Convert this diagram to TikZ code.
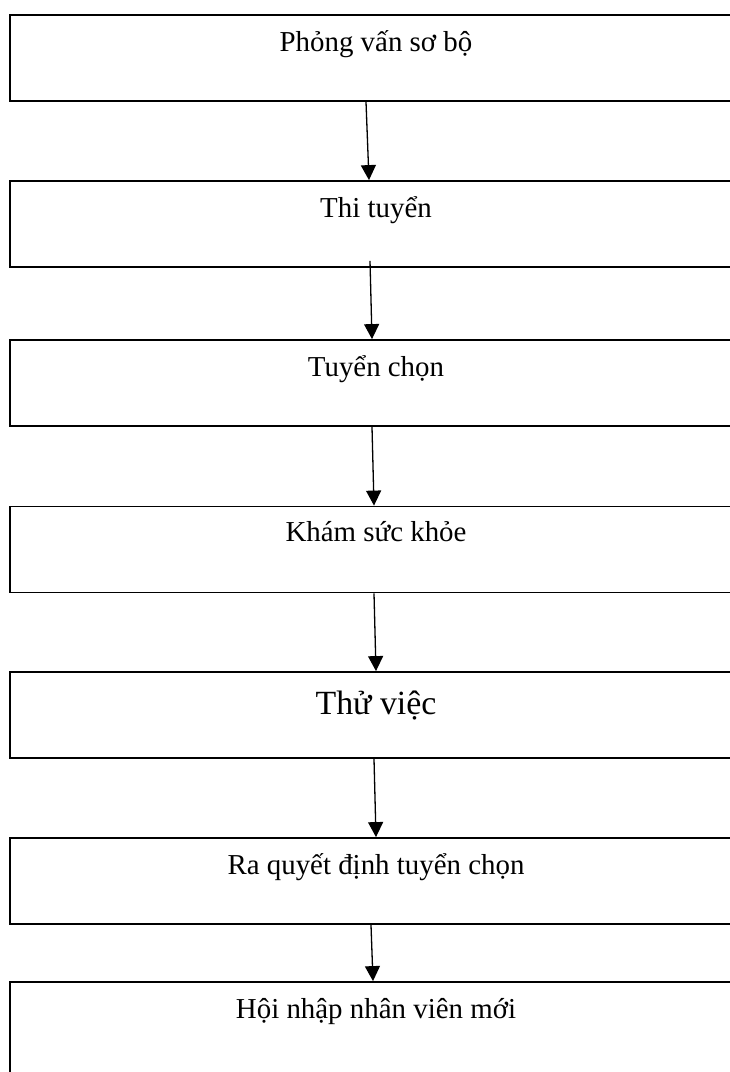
\documentclass[tikz,border=0pt]{standalone}
\usepackage{fontspec}
\setmainfont{Liberation Serif}
\usetikzlibrary{arrows.meta}
\tikzset{
  stagebox/.style={draw=black, line width=1.8bp, rectangle, minimum width=732bp, minimum height=86bp, inner sep=0pt},
  stagetext/.style={anchor=base, inner sep=0pt, font=\fontsize{29}{34}\selectfont},
  bigtext/.style={anchor=base, inner sep=0pt, font=\fontsize{34}{40}\selectfont},
  flow/.style={draw=black, line width=1.3bp, -{Triangle[length=15bp,width=15bp]}}
}
\begin{document}
\begin{tikzpicture}[x=1bp,y=-1bp]
\useasboundingbox (0,0) rectangle (730,1072);
\clip (0,0) rectangle (730,1072);
\node[stagebox] (b1) at (376,58) {};
\node[stagebox] (b2) at (376,224) {};
\node[stagebox] (b3) at (376,383) {};
\node[stagebox] (b4) at (376,549.5) {};
\node[stagebox] (b5) at (376,715) {};
\node[stagebox] (b6) at (376,881) {};
\node[stagebox, minimum height=100bp] (b7) at (376,1032) {};
\node[stagetext] (t1) at ([yshift=-37bp]b1.north) {Phỏng vấn sơ bộ};
\node[stagetext] (t2) at ([yshift=-37bp]b2.north) {Thi tuyển};
\node[stagetext] (t3) at ([yshift=-37bp]b3.north) {Tuyển chọn};
\node[stagetext] (t4) at ([yshift=-36bp]b4.north) {Khám sức khỏe};
\node[bigtext] (t5) at ([yshift=-43bp]b5.north) {Thử việc};
\node[stagetext] (t6) at ([yshift=-37bp]b6.north) {Ra quyết định tuyển chọn};
\node[stagetext] (t7) at ([yshift=-37bp]b7.north) {Hội nhập nhân viên mới};
\draw[flow] ([xshift=-10bp]b1.south) -- ([xshift=-7bp]b2.north);
\draw[flow] ([xshift=-6bp,yshift=7bp]b2.south) -- ([xshift=-4bp]b3.north);
\draw[flow] ([xshift=-4bp]b3.south) -- ([xshift=-2bp]b4.north);
\draw[flow] ([xshift=-2bp]b4.south) -- ([xshift=0bp]b5.north);
\draw[flow] ([xshift=-2bp]b5.south) -- ([xshift=0bp]b6.north);
\draw[flow] ([xshift=-5bp]b6.south) -- ([xshift=-3bp]b7.north);
\end{tikzpicture}
\end{document}
